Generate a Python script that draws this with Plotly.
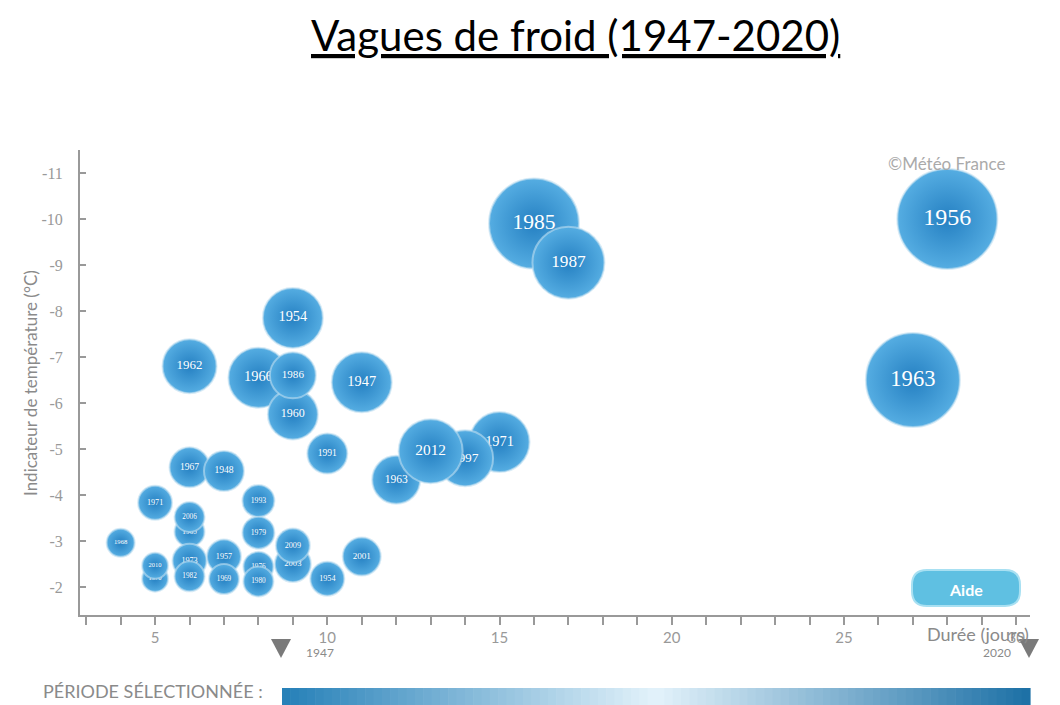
import plotly.graph_objects as go

# ---- data ----
annees = ["1956", "1963", "1985", "1987", "1954", "1962", "1966", "1960", "1986", "1947",
          "1991", "1971", "1997", "1963", "2012", "1967", "1948", "1971", "1993",
          "1965", "2006", "1968", "1970", "2010", "1973", "1982", "1957", "1969",
          "1979", "1976", "1980", "2003", "2009", "1954", "2001"]
duree = [28, 27, 16, 17, 9, 6, 8, 9, 9, 11,
         10, 15, 14, 12, 13, 6, 7, 5, 8,
         6, 6, 4, 5, 5, 6, 6, 7, 7,
         8, 8, 8, 9, 9, 10, 11]
indicateur = [-10.0, -6.5, -9.9, -9.05, -7.85, -6.8, -6.55, -5.75, -6.6, -6.45,
              -4.9, -5.15, -4.8, -4.33, -4.95, -4.6, -4.52, -3.83, -3.87,
              -3.2, -3.52, -2.96, -2.18, -2.46, -2.57, -2.23, -2.66, -2.17,
              -3.18, -2.44, -2.12, -2.5, -2.9, -2.18, -2.66]
severite = [100, 94, 90, 72, 60, 54, 60, 50, 46, 60,
            40, 60, 56, 48, 64, 40, 40, 34, 32,
            30, 30, 28, 26, 26, 34, 30, 34, 30,
            32, 30, 30, 36, 34, 34, 38]

y_ticks = [-11, -10, -9, -8, -7, -6, -5, -4, -3, -2]
x_ticks = [5, 10, 15, 20, 25, 30]
periode = ["1947", "2020"]

# ---- geometry (page has an 8px body margin) ----
OFF = 8
W, H = 1060 - OFF, 705 - OFF
X0, X1, Y0, Y1 = 80, 1030, 150, 615          # plot area in screenshot pixels
ML, MR, MT, MB = X0 - OFF, W - (X1 - OFF), Y0 - OFF, H - (Y1 - OFF)


def px(x):
    return (x - X0) / (X1 - X0)


def py(y):
    return (Y1 - y) / (Y1 - Y0)


fig = go.Figure()

for an, d, t, s in zip(annees, duree, indicateur, severite):
    fig.add_trace(go.Scatter(
        x=[d], y=[t], mode="markers+text", text=[an],
        textposition="middle center",
        textfont=dict(family="Liberation Serif", size=max(6.5, s * 0.24), color="white"),
        marker=dict(size=s, sizemode="diameter", color="#55ade2",
                    gradient=dict(type="radial", color="#2580c2"),
                    line=dict(color="rgba(190,222,240,0.6)", width=2)),
        hoverinfo="text", showlegend=False, cliponaxis=False))

grey = "#8a8a8a"
fig.update_layout(
    width=W, height=H,
    margin=dict(l=ML, r=MR, t=MT, b=MB, pad=0),
    paper_bgcolor="white", plot_bgcolor="white",
    font=dict(family="Lato", color=grey),
    xaxis=dict(range=[2.82, 30.4], showgrid=False, zeroline=False,
               showline=True, linecolor="#999", linewidth=2,
               tickvals=x_ticks, ticktext=[str(v) for v in x_ticks],
               ticks="outside", ticklen=8, tickcolor="#999", tickwidth=1.5,
               minor=dict(dtick=1, tick0=0, ticks="outside", ticklen=8, tickcolor="#999", tickwidth=1.5),
               tickfont=dict(family="Lato", size=15, color="#999")),
    yaxis=dict(range=[-1.39, -11.5], showgrid=False, zeroline=False,
               showline=True, linecolor="#999", linewidth=2,
               tickvals=y_ticks, ticktext=["-" + str(-v) for v in y_ticks],
               ticks="inside", ticklen=6, tickcolor="#999", tickwidth=1.5,
               ticklabelstandoff=12,
               tickfont=dict(family="Liberation Serif", size=16, color="#999")),
)

shapes = []
annotations = []


def note(x, y, text, size, color=grey, xanchor="center", family="Lato", **kw):
    annotations.append(dict(x=px(x), y=py(y), xref="paper", yref="paper",
                            xanchor=xanchor, yanchor="middle", text=text, showarrow=False,
                            font=dict(family=family, size=size, color=color), **kw))


# title
note(575, 35, "<u>Vagues de froid (1947-2020)</u>", 42, color="black")
# axis titles
note(30, 383, "Indicateur de température (°C)", 17, textangle=-90)
note(1031, 634, "Durée (jours)", 18, xanchor="right")
# copyright
note(946, 163, "©Météo France", 17, color="#aaa")

# Aide button (rounded rectangle)
x0, x1, y0, y1, r = 912, 1020, 570, 606, 15
path = (f"M {px(x0 + r)},{py(y0)} L {px(x1 - r)},{py(y0)} "
        f"Q {px(x1)},{py(y0)} {px(x1)},{py(y0 + r)} L {px(x1)},{py(y1 - r)} "
        f"Q {px(x1)},{py(y1)} {px(x1 - r)},{py(y1)} L {px(x0 + r)},{py(y1)} "
        f"Q {px(x0)},{py(y1)} {px(x0)},{py(y1 - r)} L {px(x0)},{py(y0 + r)} "
        f"Q {px(x0)},{py(y0)} {px(x0 + r)},{py(y0)} Z")
shapes.append(dict(type="path", xref="paper", yref="paper", path=path,
                   fillcolor="#5fc0e2", line=dict(color="#a8e0f2", width=2), layer="above"))
note(966, 589, "<b>Aide</b>", 16, color="white")

# bottom period selector
note(265, 691, "PÉRIODE SÉLECTIONNÉE :", 18, xanchor="right")

bx0, bx1, by0, by1 = 282, 1030, 688, 712
n = 90
left, mid, right = (0x25, 0x80, 0xb8), (0xe4, 0xf3, 0xfb), (0x1c, 0x70, 0xa6)
for i in range(n):
    f = (i + 0.5) / n
    if f < 0.5:
        a, b, g = left, mid, f / 0.5
    else:
        a, b, g = mid, right, (f - 0.5) / 0.5
    c = tuple(int(a[k] + (b[k] - a[k]) * g) for k in range(3))
    xa = bx0 + (bx1 - bx0) * i / n
    xb = bx0 + (bx1 - bx0) * (i + 1) / n + 0.6
    shapes.append(dict(type="rect", xref="paper", yref="paper",
                       x0=px(xa), x1=px(xb), y0=py(by1), y1=py(by0),
                       fillcolor=f"rgb{c}", line=dict(width=0)))

for cx in (281, 1029):
    shapes.append(dict(type="path", xref="paper", yref="paper",
                       path=f"M {px(cx - 10)},{py(639)} L {px(cx + 10)},{py(639)} L {px(cx)},{py(658)} Z",
                       fillcolor="#7a7a7a", line=dict(width=0)))
note(304, 652, periode[0], 12, xanchor="left")
note(1013, 652, periode[1], 12, xanchor="right")

fig.update_layout(shapes=shapes, annotations=annotations)
fig.write_html("out.html")
